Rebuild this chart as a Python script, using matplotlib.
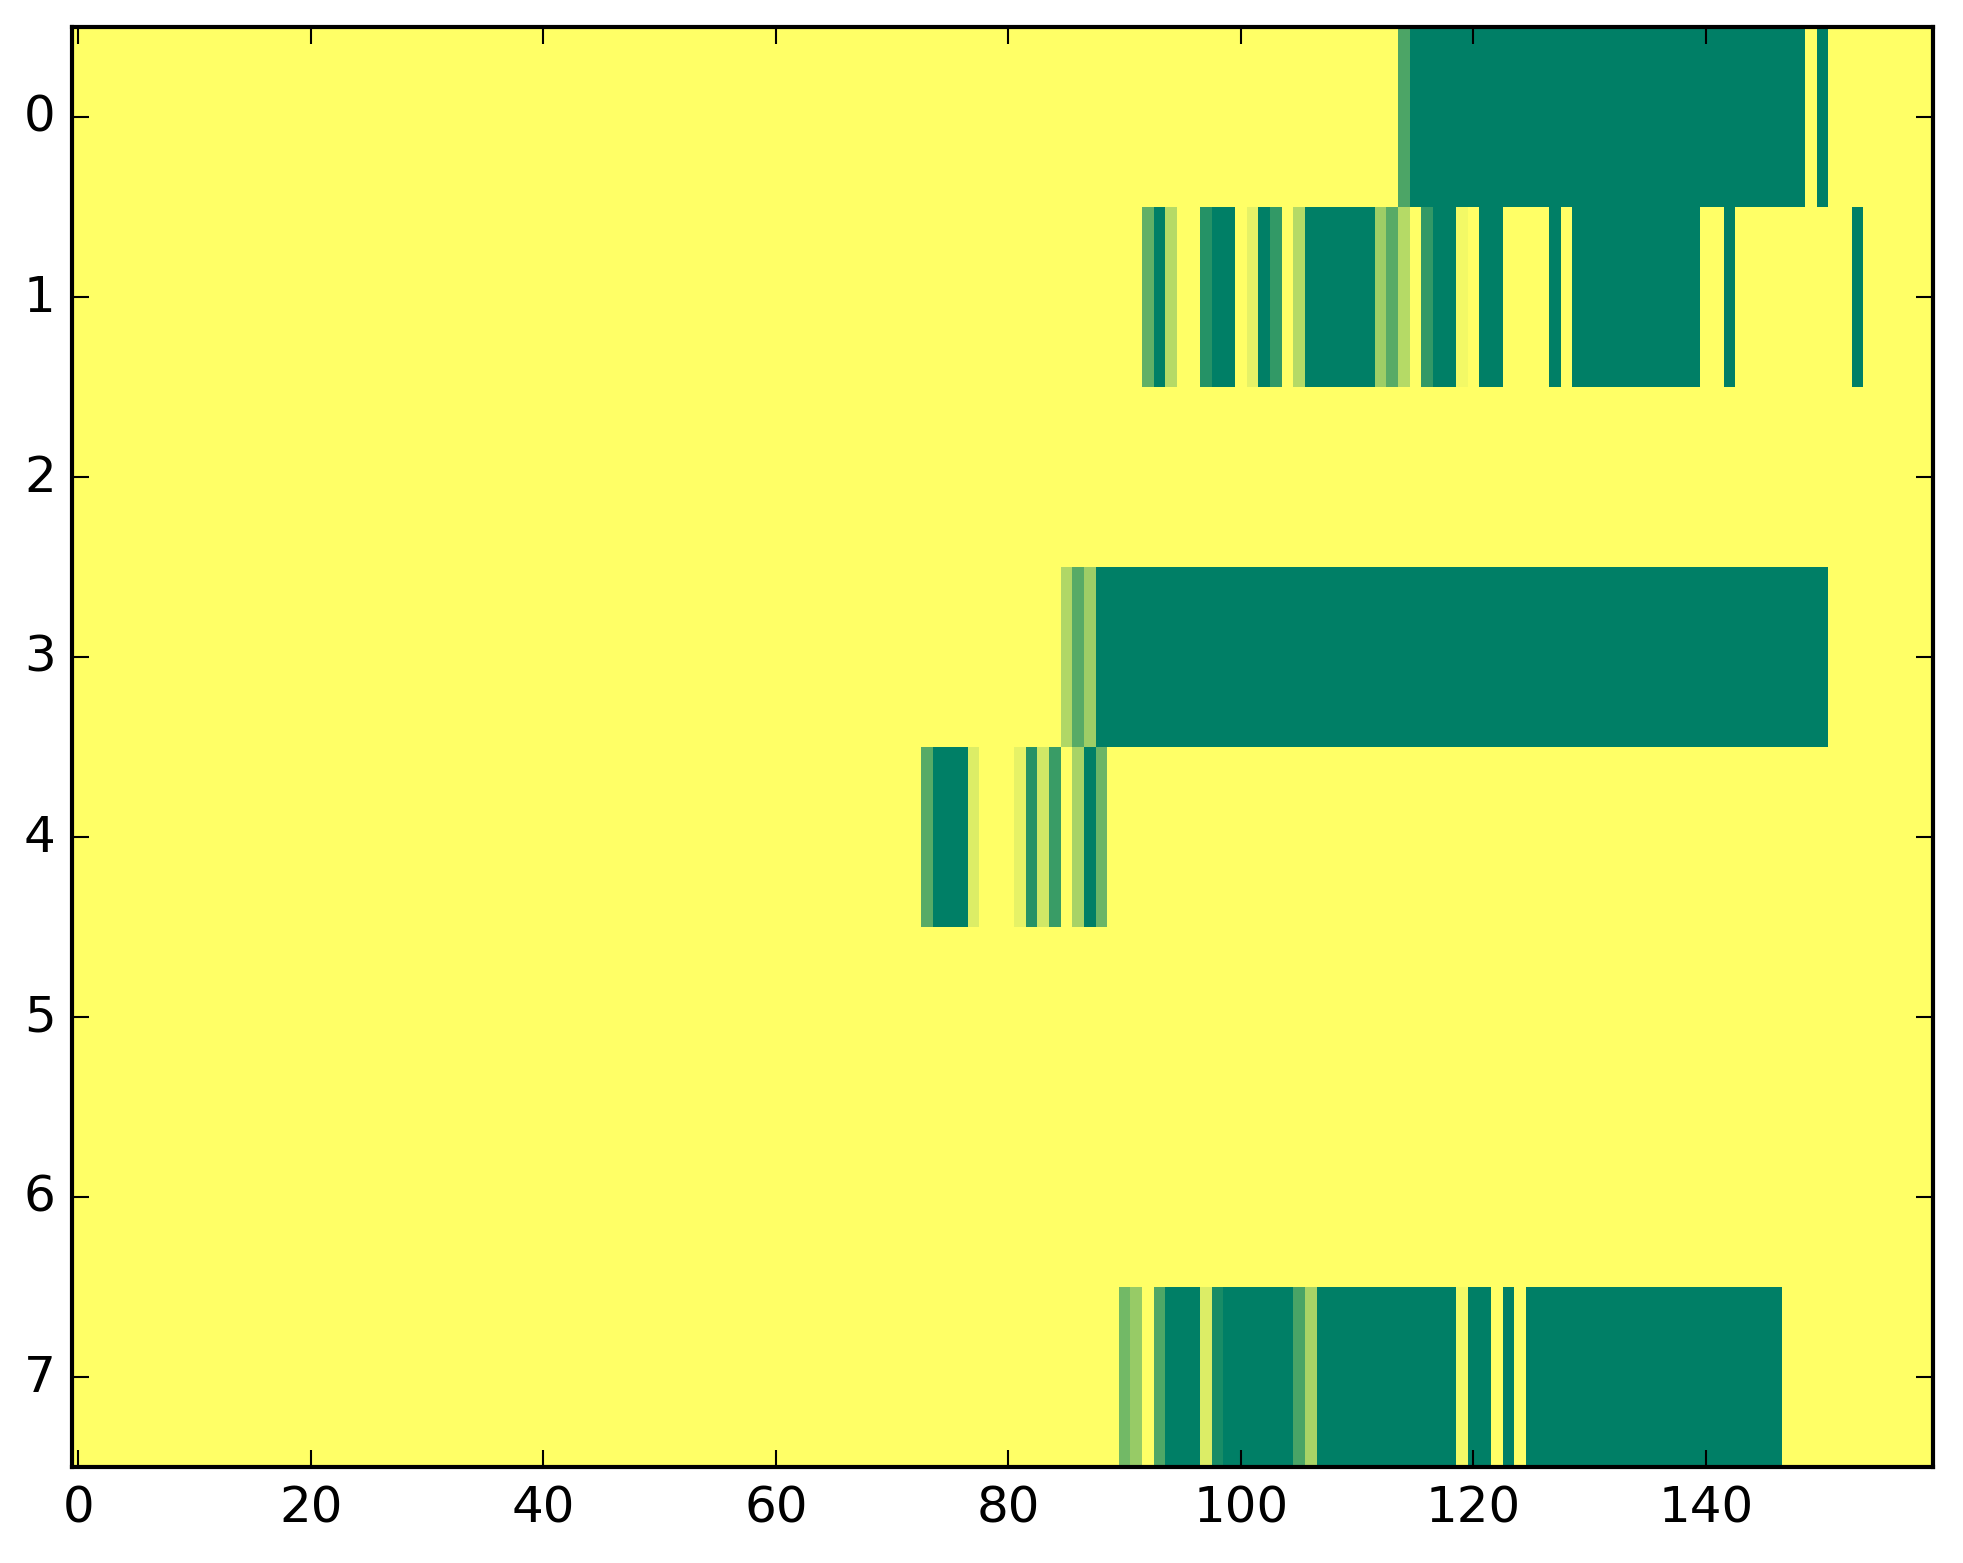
import numpy as np
import matplotlib
matplotlib.use('Agg')
import matplotlib.pyplot as plt

# grid size: 8 rows, 160 columns
n_rows = 8
n_cols = 160

# non-zero cells per row as (first column, last column, value)
row0 = [(114, 114, 0.70), (115, 148, 1.0), (150, 150, 1.0)]
row1 = [(92, 92, 0.62), (93, 93, 1.0), (94, 94, 0.29), (97, 97, 0.855),
        (98, 99, 1.0), (101, 101, 0.10), (102, 102, 1.0), (103, 103, 0.80),
        (105, 105, 0.29), (106, 111, 1.0), (112, 112, 0.38), (113, 113, 0.655),
        (114, 114, 0.29), (116, 116, 0.80), (117, 118, 1.0), (119, 119, 0.05),
        (121, 122, 1.0), (127, 127, 1.0), (129, 139, 1.0), (142, 142, 1.0),
        (153, 153, 1.0)]
row2 = []
row3 = [(85, 85, 0.31), (86, 86, 0.66), (87, 87, 0.38), (88, 150, 1.0)]
row4 = [(73, 73, 0.66), (74, 76, 1.0), (77, 77, 0.14), (81, 81, 0.10),
        (82, 82, 0.855), (83, 83, 0.18), (84, 84, 0.77), (86, 86, 0.34),
        (87, 87, 1.0), (88, 88, 0.58)]
row5 = []
row6 = []
row7 = [(90, 90, 0.55), (91, 91, 0.41), (93, 93, 0.69), (94, 96, 1.0),
        (97, 97, 0.14), (98, 98, 0.90), (99, 104, 1.0), (105, 105, 0.71),
        (106, 106, 0.34), (107, 118, 1.0), (119, 119, 0.05), (120, 121, 1.0),
        (123, 123, 1.0), (125, 146, 1.0)]

rows = [row0, row1, row2, row3, row4, row5, row6, row7]

data = np.zeros((n_rows, n_cols))
for i, segs in enumerate(rows):
    for a, b, v in segs:
        data[i, a:b + 1] = v

plt.style.use('classic')

fig = plt.figure(figsize=(1963 / 300, 1564 / 300), dpi=300, facecolor='white')
ax = fig.add_axes([72.4 / 1963, 96 / 1564, 1860.3 / 1963, 1440 / 1564])

ax.imshow(data, cmap='summer_r', vmin=0, vmax=1,
          interpolation='nearest', aspect='auto')

ax.set_xticks(range(0, 160, 20))
ax.set_yticks(range(n_rows))
ax.set_xlim(-0.5, n_cols - 0.5)
ax.set_ylim(n_rows - 0.5, -0.5)

plt.savefig('out.png', dpi=300, facecolor='white')
